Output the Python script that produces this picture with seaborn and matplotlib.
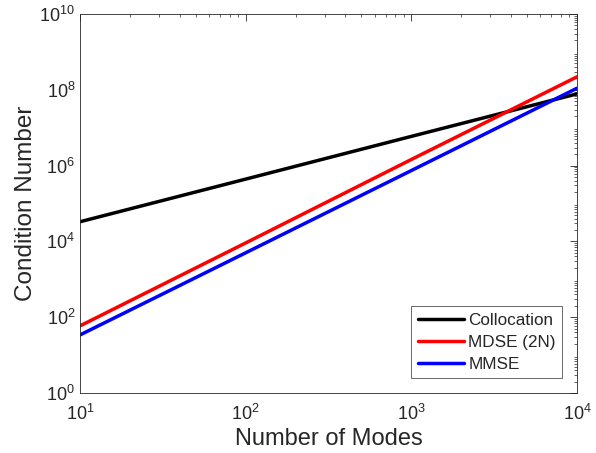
import matplotlib
matplotlib.use("Agg")
import matplotlib.pyplot as plt
import seaborn as sns
import pandas as pd
import numpy as np

modes = [10, 100, 1000, 10000]
collocation = [3.3e4, 4.4e5, 5.9e6, 7.8e7]
mdse_2n = [59, 9.1e3, 1.45e6, 2.2e8]
mmse = [34, 5.0e3, 7.4e5, 1.1e8]

sns.set_style("white")
plt.rcParams['font.family'] = ['Liberation Sans', 'DejaVu Sans']
plt.rcParams['mathtext.fontset'] = 'custom'
plt.rcParams['mathtext.rm'] = 'Liberation Sans'
plt.rcParams['mathtext.it'] = 'Liberation Sans'

df = pd.DataFrame({
    "Modes": modes * 3,
    "Value": collocation + mdse_2n + mmse,
    "Method": ["Collocation"] * 4 + ["MDSE (2N)"] * 4 + ["MMSE"] * 4,
})

fig = plt.figure(figsize=(5.96, 4.53), dpi=100)
ax = fig.add_axes([80/596, 60/453, 497/596, 379/453])
sns.lineplot(data=df, x="Modes", y="Value", hue="Method",
             palette={"Collocation": "#000000", "MDSE (2N)": "#ff0000", "MMSE": "#0000ff"},
             linewidth=2.5, ax=ax, legend=True)
ax.set_xscale("log")
ax.set_yscale("log")
ax.set_xlim(10, 1e4)
ax.set_ylim(1, 1e10)
ax.set_yticks([1, 1e2, 1e4, 1e6, 1e8, 1e10])
ax.set_xticks([10, 100, 1000, 10000])
ax.yaxis.set_minor_locator(matplotlib.ticker.LogLocator(base=10, subs=np.arange(2, 10), numticks=100))
ax.xaxis.set_minor_locator(matplotlib.ticker.LogLocator(base=10, subs=np.arange(2, 10), numticks=100))
ax.yaxis.set_minor_formatter(matplotlib.ticker.NullFormatter())
ax.xaxis.set_minor_formatter(matplotlib.ticker.NullFormatter())
ax.tick_params(which="both", direction="in", top=True, right=True, colors="#262626", labelcolor="#262626")
ax.tick_params(which="major", length=5, width=0.6, labelsize=13)
ax.tick_params(which="minor", length=2.5, width=0.5)
ax.tick_params(axis="x", pad=8)
for s in ax.spines.values():
    s.set_color("#262626")
    s.set_linewidth(0.6)
ax.set_xlabel("Number of Modes", fontsize=17, color="#262626", labelpad=3)
ax.set_ylabel("Condition Number", fontsize=17.5, color="#262626", labelpad=2)

leg = ax.legend(loc="lower right", fontsize=12.3, frameon=True, fancybox=False,
                edgecolor="#262626", handlelength=2.7, handletextpad=0.25,
                borderaxespad=0.85, borderpad=0.4, labelspacing=0.4)
leg.get_frame().set_linewidth(0.6)
for line in leg.get_lines():
    line.set_linewidth(2.5)

fig.savefig("out.png", dpi=100)
